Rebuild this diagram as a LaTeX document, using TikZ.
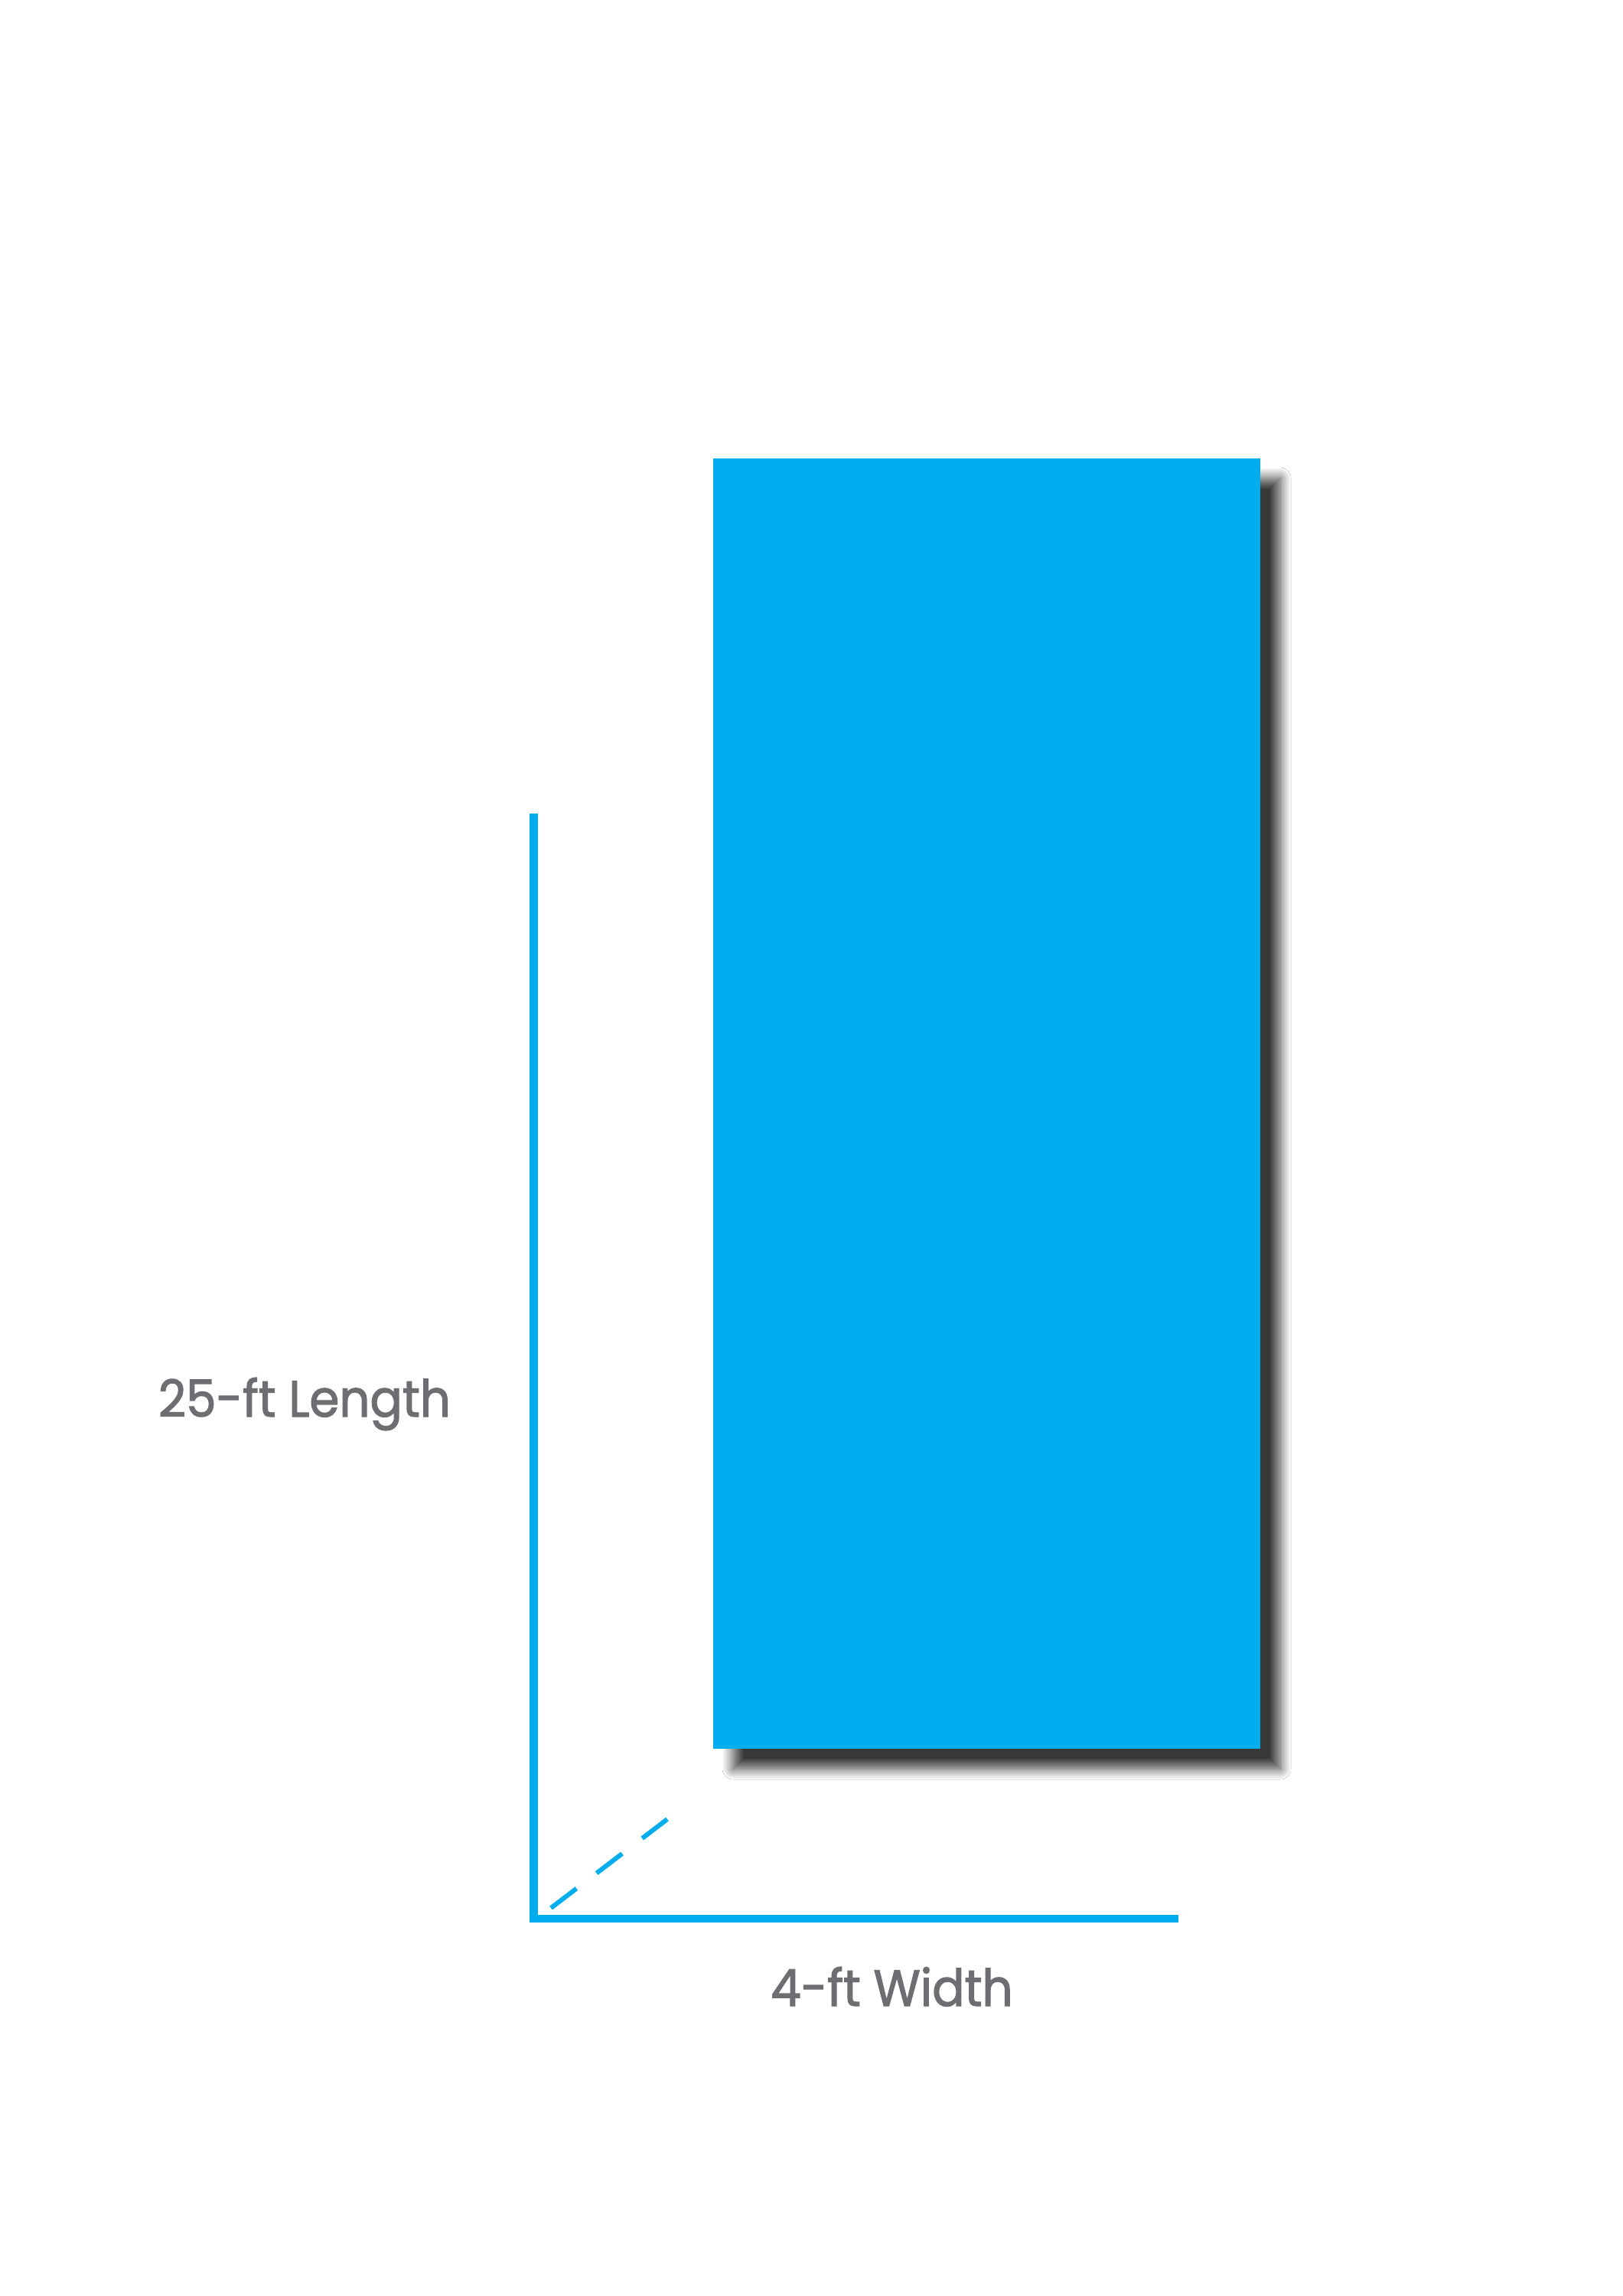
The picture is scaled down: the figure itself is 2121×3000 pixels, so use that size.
\documentclass[tikz,border=0pt]{standalone}
\usepackage{fontspec}
\setmainfont{Poppins}[FakeStretch=0.94, FakeBold=1.8]
\usetikzlibrary{shadows.blur}
\definecolor{cyanblue}{HTML}{00AEEF}
\definecolor{labelgray}{HTML}{6D6E71}
\begin{document}
\begin{tikzpicture}[x=0.1mm,y=-0.1mm,
  panel/.style={fill=cyanblue, draw=none, inner sep=0pt, minimum width=71.5mm, minimum height=168.6mm,
    blur shadow={shadow xshift=2.6mm, shadow yshift=-2.6mm, shadow blur radius=1.4mm, shadow blur steps=12, shadow opacity=78}},
  axisline/.style={draw=cyanblue, line width=1.05mm, line cap=butt, line join=miter},
  diagline/.style={draw=cyanblue, line width=0.6mm, dash pattern=on 4.2mm off 3.3mm},
  dimlabel/.style={text=labelgray, font=\fontsize{19pt}{22pt}\selectfont, inner sep=0pt, anchor=base}
]
\useasboundingbox[fill=white] (0,0) rectangle (2121,3000);
\node[panel] (rect) at (1289.5,1442) {};
\coordinate (ytop) at (697.5,1063);
\coordinate (origin) at (697.5,2507);
\coordinate (xend) at (1540,2507);
\coordinate (dstart) at (720,2493);
\coordinate (dend) at (872,2377);
\draw[axisline] (ytop) -- (origin) -- (xend);
\draw[diagline] (dstart) -- (dend);
\node[dimlabel] (lenlabel) at (398,1851) {25-ft Length};
\node[dimlabel] (widlabel) at (1165.5,2621) {4-ft Width};
\end{tikzpicture}
\end{document}
